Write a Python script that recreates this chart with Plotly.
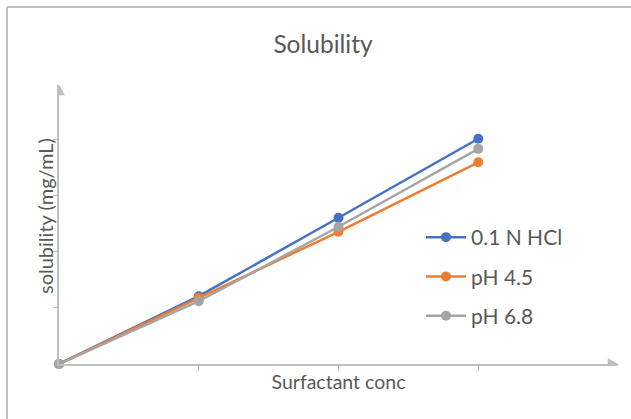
import plotly.graph_objects as go

# ---- data (y in axis-tick units) ----
conc_levels = [0, 1, 2, 3]
hcl_01n = [0.0, 1.21, 2.61, 4.02]
ph_45 = [0.0, 1.18, 2.36, 3.60]
ph_68 = [0.0, 1.12, 2.45, 3.84]
series_names = ["0.1 N HCl", "pH 4.5", "pH 6.8"]
series_colors = ["#4472C4", "#ED7D31", "#A5A5A5"]
x_ticks = [1, 2, 3]
y_ticks = [1, 2, 3, 4]
title_text = "Solubility"
x_title = "Surfactant conc"
y_title = "solubility (mg/mL)"

W, H = 631, 419
M = dict(l=59, r=13, t=85, b=55)
X_RANGE = [0, 4]
Y_RANGE = [0, 4.98]
AXIS_GRAY = "#BFBFBF"
TEXT_GRAY = "#595959"
FONT = "Lato"

fig = go.Figure()
for name, vals, col, grp in zip(series_names, [hcl_01n, ph_45, ph_68], series_colors, ["a", "b", "c"]):
    fig.add_trace(go.Scatter(
        x=conc_levels, y=vals, name=name, mode="lines+markers",
        line=dict(color=col, width=2.5),
        marker=dict(color=col, size=10),
        cliponaxis=False, legendgroup=grp,
    ))

# pixel <-> paper helpers for the frame border and legend
pw = W - M["l"] - M["r"]
ph = H - M["t"] - M["b"]
def px_to_paper_x(px):
    return (px - M["l"]) / pw
def px_to_paper_y(py):
    return (H - M["b"] - py) / ph

shapes = [
    # outer chart frame (top and left visible)
    dict(type="line", xref="paper", yref="paper",
         x0=px_to_paper_x(7), x1=px_to_paper_x(W + 5),
         y0=px_to_paper_y(7), y1=px_to_paper_y(7),
         line=dict(color=AXIS_GRAY, width=2), layer="below"),
    dict(type="line", xref="paper", yref="paper",
         x0=px_to_paper_x(7), x1=px_to_paper_x(7),
         y0=px_to_paper_y(7), y1=px_to_paper_y(H + 5),
         line=dict(color=AXIS_GRAY, width=2), layer="below"),
    # x-axis arrow head
    dict(type="path", xref="x", yref="y", xsizemode="pixel", ysizemode="pixel",
         xanchor=X_RANGE[1], yanchor=0,
         path="M 0,0 L -10,-5.5 L -10,5.5 Z",
         fillcolor=AXIS_GRAY, line=dict(color=AXIS_GRAY, width=0.5)),
    # y-axis arrow head
    dict(type="path", xref="x", yref="y", xsizemode="pixel", ysizemode="pixel",
         xanchor=0, yanchor=Y_RANGE[1],
         path="M 0,0 L -5.5,-10 L 5.5,-10 Z",
         fillcolor=AXIS_GRAY, line=dict(color=AXIS_GRAY, width=0.5)),
]

annotations = [
    dict(text=y_title, textangle=-90, showarrow=False,
         xref="paper", yref="paper",
         x=px_to_paper_x(45), y=px_to_paper_y(216),
         xanchor="center", yanchor="middle",
         font=dict(size=20, color=TEXT_GRAY, family=FONT)),
]

fig.update_layout(
    width=W, height=H, margin=M,
    paper_bgcolor="white", plot_bgcolor="white",
    font=dict(family=FONT, color=TEXT_GRAY, size=16),
    title=dict(text=title_text, x=323 / W,
               xanchor="center", y=1 - 44 / H, yanchor="middle",
               font=dict(size=24.5, color=TEXT_GRAY, family=FONT)),
    showlegend=True,
    legend=dict(x=px_to_paper_x(421), y=px_to_paper_y(217), xanchor="left", yanchor="top",
                traceorder="grouped", tracegroupgap=9, itemwidth=40,
                font=dict(size=21, color=TEXT_GRAY, family=FONT),
                bgcolor="rgba(0,0,0,0)"),
    xaxis=dict(range=X_RANGE, showgrid=False, zeroline=False,
               showline=True, linecolor=AXIS_GRAY, linewidth=1.5,
               ticks="outside", ticklen=5, tickcolor=AXIS_GRAY, tickwidth=1,
               tickvals=x_ticks, showticklabels=False,
               title=dict(text=x_title, standoff=6,
                          font=dict(size=19.5, color=TEXT_GRAY, family=FONT))),
    yaxis=dict(range=Y_RANGE, showgrid=False, zeroline=False,
               showline=True, linecolor=AXIS_GRAY, linewidth=1.5,
               ticks="outside", ticklen=4, tickcolor=AXIS_GRAY, tickwidth=1,
               tickvals=y_ticks, showticklabels=False),
    shapes=shapes,
    annotations=annotations,
)

fig.write_html("out.html")
